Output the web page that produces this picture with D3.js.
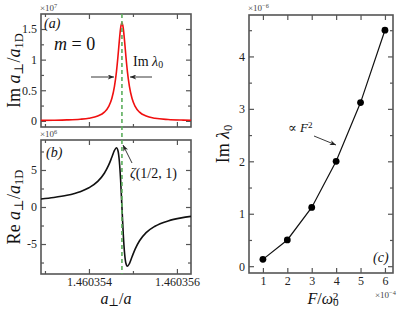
<!DOCTYPE html>
<html>
<head>
<meta charset="utf-8">
<script src="https://cdn.jsdelivr.net/npm/d3@7"></script>
<style>
  body { margin: 0; background: #fff; }
  svg { display: block; }
  text { font-family: "Liberation Serif", "DejaVu Serif", serif; fill: #111; }
  .axis path { display: none; }
  .axis line { stroke: #555; stroke-width: 1.2; }
  .axis text { font-size: 12px; fill: #222; font-family: "Liberation Serif", serif; }
  .frame { fill: none; stroke: #555; stroke-width: 1.6; }
</style>
</head>
<body>
<svg id="gfx"></svg>
<script>
// panels (a),(b): x is a_perp/a as offset from 1.460354, in units of 1e-6
const baseX = 1.460354;
const resX = [-1.09, -0.8, -0.5, -0.2, 0, 0.2, 0.35, 0.45, 0.52, 0.58, 0.625, 0.66, 0.69, 0.72,
  0.75, 0.78, 0.81, 0.84, 0.875, 0.92, 0.98, 1.05, 1.15, 1.3, 1.5, 1.8, 2.1, 2.32];
// Im a_perp / a_1D, x1e7
const imA = [0.0074, 0.0103, 0.0158, 0.0272, 0.0432, 0.0786, 0.142, 0.237, 0.365, 0.562, 0.8, 1.055, 1.302, 1.515,
  1.6, 1.515, 1.302, 1.055, 0.8, 0.562, 0.365, 0.237, 0.142, 0.0786, 0.0432, 0.0224, 0.0136, 0.0101];
// Re a_perp / a_1D, x1e6
const reA = [1.08, 1.28, 1.58, 2.07, 2.6, 3.46, 4.56, 5.68, 6.72, 7.64, 8.0, 7.6, 6.25, 3.64,
  0, -3.64, -6.25, -7.6, -8.0, -7.64, -6.72, -5.68, -4.56, -3.46, -2.6, -1.88, -1.47, -1.27];
const zetaX = 0.75;
const abXTicks = [0, 2];
const abXMinor = [-1, 1];
const aYTicks = [0, 0.5, 1, 1.5];
const aYMinor = [0.25, 0.75, 1.25];
const bYTicks = [-5, 0, 5];
const bYMinor = [-7.5, -2.5, 2.5, 7.5];

// panel (c): Im lambda_0 vs F/omega0^2
const fVals = [1, 2, 3, 4, 5, 6];          // x1e-4
const imLambda = [0.13, 0.5, 1.12, 2.0, 3.12, 4.5]; // x1e-6
const cXTicks = [1, 2, 3, 4, 5, 6];
const cYTicks = [0, 1, 2, 3, 4];
const cYMinor = [0.5, 1.5, 2.5, 3.5, 4.5];

const W = 409, H = 309;
const svg = d3.select("#gfx").attr("width", W).attr("height", H);

const defs = svg.append("defs");
defs.append("marker").attr("id", "arr")
  .attr("viewBox", "0 -4 10 8").attr("refX", 10).attr("refY", 0)
  .attr("markerWidth", 7).attr("markerHeight", 5).attr("orient", "auto")
  .attr("markerUnits", "userSpaceOnUse")
  .append("path").attr("d", "M0,-4L10,0L0,4L3,0Z").attr("fill", "#222");

const pa = { l: 41, r: 191, t: 14, b: 127 };
const pb = { l: 41, r: 191, t: 140, b: 274 };
const pc = { l: 249, r: 393, t: 15, b: 273 };

const x = d3.scaleLinear().domain([-1.09, 2.32]).range([pa.l, pa.r]);
const ya = d3.scaleLinear().domain([-0.1, 1.745]).range([pa.b, pa.t]);
const yb = d3.scaleLinear().domain([-9.05, 9.05]).range([pb.b, pb.t]);
const xc = d3.scaleLinear().domain([0.43, 6.33]).range([pc.l, pc.r]);
const yc = d3.scaleLinear().domain([-0.13, 4.79]).range([pc.b, pc.t]);

// rich text: segs = [[text, style]] style: "", "i", "sub", "sup", "back" (overlay on previous)
function rich(sel, segs, size) {
  segs.forEach(([t, s]) => {
    const ts = sel.append("tspan").text(t);
    if (s.includes("i")) ts.attr("font-style", "italic");
    if (s.includes("sub")) ts.attr("baseline-shift", "-22%").attr("font-size", size * 0.7);
    if (s.includes("sup")) ts.attr("baseline-shift", s.includes("back") ? "35%" : "45%").attr("font-size", size * 0.7);
    if (s.includes("back")) ts.attr("dx", -size * 0.36);
  });
  return sel;
}

function axes(p, xs, ys, xt, xm, yt, ym, xfmt, yfmt) {
  const g = svg.append("g");
  const maj = 5, mn = 3;
  g.append("g").attr("class", "axis").attr("transform", `translate(0,${p.b})`)
    .call(d3.axisBottom(xs).tickValues(xt).tickSize(-maj).tickPadding(3).tickFormat(xfmt));
  g.append("g").attr("class", "axis").attr("transform", `translate(0,${p.b})`)
    .call(d3.axisBottom(xs).tickValues(xm).tickSize(-mn).tickFormat(""));
  g.append("g").attr("class", "axis").attr("transform", `translate(0,${p.t})`)
    .call(d3.axisTop(xs).tickValues(xt).tickSize(-maj).tickFormat(""));
  g.append("g").attr("class", "axis").attr("transform", `translate(0,${p.t})`)
    .call(d3.axisTop(xs).tickValues(xm).tickSize(-mn).tickFormat(""));
  g.append("g").attr("class", "axis").attr("transform", `translate(${p.l},0)`)
    .call(d3.axisLeft(ys).tickValues(yt).tickSize(-maj).tickPadding(4).tickFormat(yfmt));
  g.append("g").attr("class", "axis").attr("transform", `translate(${p.l},0)`)
    .call(d3.axisLeft(ys).tickValues(ym).tickSize(-mn).tickFormat(""));
  g.append("g").attr("class", "axis").attr("transform", `translate(${p.r},0)`)
    .call(d3.axisRight(ys).tickValues(yt).tickSize(-maj).tickFormat(""));
  g.append("g").attr("class", "axis").attr("transform", `translate(${p.r},0)`)
    .call(d3.axisRight(ys).tickValues(ym).tickSize(-mn).tickFormat(""));
  g.append("rect").attr("class", "frame")
    .attr("x", p.l).attr("y", p.t).attr("width", p.r - p.l).attr("height", p.b - p.t);
  return g;
}

const xfmtAB = d => (baseX + d * 1e-6).toFixed(6);
axes(pa, x, ya, abXTicks, abXMinor, aYTicks, aYMinor, "", d => d3.format("")(d));
axes(pb, x, yb, abXTicks, abXMinor, bYTicks, bYMinor, xfmtAB, d => String(d));
axes(pc, xc, yc, cXTicks, [], cYTicks, cYMinor, d => String(d), d => String(d));

// curves
defs.append("clipPath").attr("id", "ca").append("rect")
  .attr("x", pa.l).attr("y", pa.t).attr("width", pa.r - pa.l).attr("height", pa.b - pa.t);
defs.append("clipPath").attr("id", "cb").append("rect")
  .attr("x", pb.l).attr("y", pb.t).attr("width", pb.r - pb.l).attr("height", pb.b - pb.t);

const lineA = d3.line().x((d, i) => x(resX[i])).y(d => ya(d)).curve(d3.curveMonotoneX);
const lineB = d3.line().x((d, i) => x(resX[i])).y(d => yb(d)).curve(d3.curveMonotoneX);

svg.append("path").datum(imA).attr("d", lineA).attr("clip-path", "url(#ca)")
  .attr("fill", "none").attr("stroke", "#f01010").attr("stroke-width", 1.6);
svg.append("path").datum(reA).attr("d", lineB).attr("clip-path", "url(#cb)")
  .attr("fill", "none").attr("stroke", "#111").attr("stroke-width", 1.6);

// dashed zeta line across (a) and (b)
svg.append("line").attr("x1", x(zetaX)).attr("x2", x(zetaX))
  .attr("y1", pa.t).attr("y2", pb.b)
  .attr("stroke", "#5cae5c").attr("stroke-width", 1.6).attr("stroke-dasharray", "4,3");

// panel (c) line + points
const lineC = d3.line().x((d, i) => xc(fVals[i])).y(d => yc(d));
svg.append("path").datum(imLambda).attr("d", lineC)
  .attr("fill", "none").attr("stroke", "#111").attr("stroke-width", 1.2);
svg.selectAll("circle.pt").data(imLambda).enter().append("circle").attr("class", "pt")
  .attr("cx", (d, i) => xc(fVals[i])).attr("cy", d => yc(d)).attr("r", 3.4).attr("fill", "#000");

// exponent labels
function expo(xp, yp, e) {
  const t = svg.append("text").attr("x", xp).attr("y", yp).attr("font-size", 9).style("fill", "#444");
  rich(t, [["×10", ""], [e, "sup"]], 9);
}
expo(pa.l - 1, pa.t - 3, "7");
expo(pb.l - 1, pb.t - 3, "6");
expo(pc.l - 1, pc.t - 4, "−6");
expo(375, 298, "−4");

// axis titles
rich(svg.append("text").attr("transform", `translate(20,${(pa.t + pa.b) / 2}) rotate(-90)`)
  .attr("text-anchor", "middle").attr("font-size", 18),
  [["Im ", ""], ["a", "i"], ["⊥", "sub"], ["/", ""], ["a", "i"], ["1D", "sub"]], 18);
rich(svg.append("text").attr("transform", `translate(20,${(pb.t + pb.b) / 2}) rotate(-90)`)
  .attr("text-anchor", "middle").attr("font-size", 18),
  [["Re ", ""], ["a", "i"], ["⊥", "sub"], ["/", ""], ["a", "i"], ["1D", "sub"]], 18);
rich(svg.append("text").attr("x", (pa.l + pa.r) / 2).attr("y", 304)
  .attr("text-anchor", "middle").attr("font-size", 16),
  [["a", "i"], ["⊥", "sub"], ["/", ""], ["a", "i"]], 16);
rich(svg.append("text").attr("transform", `translate(229,${(pc.t + pc.b) / 2}) rotate(-90)`)
  .attr("text-anchor", "middle").attr("font-size", 18),
  [["Im ", ""], ["λ", "i"], ["0", "sub"]], 18);
rich(svg.append("text").attr("x", (pc.l + pc.r) / 2 + 2).attr("y", 304)
  .attr("text-anchor", "middle").attr("font-size", 16),
  [["F", "i"], ["/", ""], ["ω", "i"], ["0", "sub"], ["2", "sup back"]], 16);

// panel annotations
svg.append("text").attr("x", 44).attr("y", 28).attr("font-size", 14).attr("font-style", "italic").text("(a)");
svg.append("text").attr("x", 46).attr("y", 157).attr("font-size", 14).attr("font-style", "italic").text("(b)");
svg.append("text").attr("x", 373).attr("y", 262).attr("font-size", 14).attr("font-style", "italic").text("(c)");
rich(svg.append("text").attr("x", 54).attr("y", 50).attr("font-size", 18),
  [["m", "i"], [" = 0", ""]], 18);
rich(svg.append("text").attr("x", 133).attr("y", 66).attr("font-size", 14),
  [["Im ", ""], ["λ", "i"], ["0", "sub"]], 14);
rich(svg.append("text").attr("x", 130).attr("y", 178).attr("font-size", 14),
  [["ζ", "i"], ["(1/2, 1)", ""]], 14);
rich(svg.append("text").attr("x", 288).attr("y", 132).attr("font-size", 13),
  [["∝ ", ""], ["F", "i"], ["2", "sup"]], 13);

// arrows
function arrow(x1, y1, x2, y2) {
  svg.append("line").attr("x1", x1).attr("y1", y1).attr("x2", x2).attr("y2", y2)
    .attr("stroke", "#222").attr("stroke-width", 0.9).attr("marker-end", "url(#arr)");
}
arrow(91, 77, 114, 77);
arrow(152, 77, 130, 77);
arrow(132, 163, 123, 145);
arrow(314, 136, 336, 145);
</script>
</body>
</html>
